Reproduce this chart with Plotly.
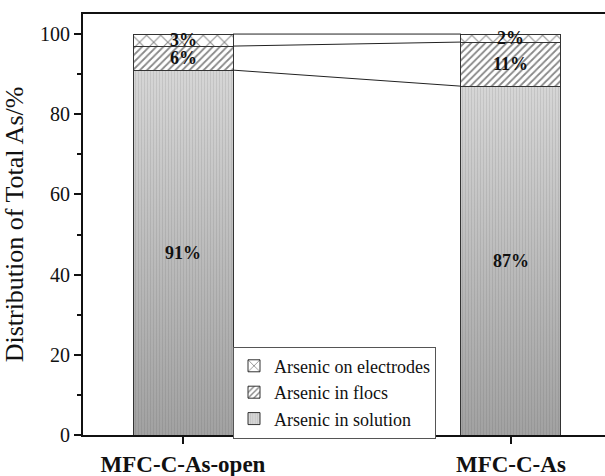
import plotly.graph_objects as go

# Arsenic distribution (%) for each reactor configuration
categories = ["MFC-C-As-open", "MFC-C-As"]
solution = [91, 87]
flocs = [6, 11]
electrodes = [3, 2]

series_names = ["Arsenic in solution", "Arsenic in flocs", "Arsenic on electrodes"]

BAR_W = 0.305
SERIF = "Liberation Serif"

xpos = list(range(len(categories)))

fig = go.Figure()

fig.add_trace(go.Bar(
    x=xpos, y=solution, width=BAR_W, name=series_names[0],
    marker=dict(color="#d4d4d4", line=dict(color="#333333", width=1),
                pattern=dict(shape="|", fgcolor="#b4b4b4", bgcolor="#d6d6d6",
                             size=3, solidity=0.35)),
))
fig.add_trace(go.Bar(
    x=xpos, y=flocs, width=BAR_W, name=series_names[1],
    marker=dict(color="white", line=dict(color="#333333", width=1),
                pattern=dict(shape="/", fgcolor="#111111", bgcolor="white",
                             size=5, solidity=0.35)),
))
fig.add_trace(go.Bar(
    x=xpos, y=electrodes, width=BAR_W, name=series_names[2],
    marker=dict(color="white", line=dict(color="#333333", width=1),
                pattern=dict(shape="x", fgcolor="#111111", bgcolor="white",
                             size=10, solidity=0.2)),
))

# Shading over the solution segments: darker toward the base
for i in xpos:
    x0, x1 = i - BAR_W / 2, i + BAR_W / 2
    fig.add_trace(go.Scatter(
        x=[x0, x1, x1, x0, x0], y=[0, 0, solution[i], solution[i], 0],
        mode="lines", line=dict(width=0), fill="toself",
        fillgradient=dict(type="vertical", start=0, stop=solution[i],
                          colorscale=[[0, "rgba(50,50,50,0.32)"],
                                      [1, "rgba(50,50,50,0.0)"]]),
        showlegend=False, hoverinfo="skip",
    ))

# Connecting lines between the stacked segment boundaries
levels = [
    [s for s in solution],
    [s + f for s, f in zip(solution, flocs)],
    [s + f + e for s, f, e in zip(solution, flocs, electrodes)],
]
for lv in levels:
    fig.add_trace(go.Scatter(
        x=[xpos[0] + BAR_W / 2, xpos[1] - BAR_W / 2], y=[lv[0], lv[1]],
        mode="lines", line=dict(color="#222222", width=1), showlegend=False,
        hoverinfo="skip",
    ))

# Percentage labels centred in each segment
for i in xpos:
    centers = [
        (solution[i] / 2, solution[i]),
        (solution[i] + flocs[i] / 2, flocs[i]),
        (solution[i] + flocs[i] + electrodes[i] / 2, electrodes[i]),
    ]
    for yc, val in centers:
        fig.add_annotation(
            x=i, y=yc, text=f"{val}%", showarrow=False,
            font=dict(family=SERIF, size=18, color="#111111", weight="bold"),
        )

fig.update_layout(
    width=605, height=476,
    margin=dict(l=83, r=0, t=14, b=41),
    barmode="stack",
    plot_bgcolor="white", paper_bgcolor="white",
    font=dict(family=SERIF, color="#111111"),
    showlegend=True,
    legend=dict(
        traceorder="reversed",
        x=(0 + BAR_W / 2 + 0.305) / (1.287 + 0.305), xanchor="left",
        y=0.21, yanchor="top",
        bgcolor="white", bordercolor="#555555", borderwidth=1,
        font=dict(family=SERIF, size=18, color="#111111"),
        itemwidth=30, tracegroupgap=0,
    ),
    xaxis=dict(
        range=[-0.305, 1.287],
        tickmode="array", tickvals=xpos, ticktext=categories,
        tickfont=dict(family=SERIF, size=23, color="#111111", weight="bold"),
        showline=True, linecolor="#111111", linewidth=2, mirror=True,
        ticks="outside", ticklen=7, tickwidth=2, tickcolor="#111111",
        showgrid=False, zeroline=False,
    ),
    yaxis=dict(
        range=[0, 105],
        tickvals=[0, 20, 40, 60, 80, 100],
        tickfont=dict(family=SERIF, size=20, color="#111111"),
        showline=True, linecolor="#111111", linewidth=2,
        ticks="outside", ticklen=7, tickwidth=2, tickcolor="#111111",
        minor=dict(tickvals=[10, 30, 50, 70, 90], ticks="outside", ticklen=4,
                   tickwidth=2, tickcolor="#111111"),
        showgrid=False, zeroline=False,
        title=dict(text="Distribution of Total As/%",
                   font=dict(family=SERIF, size=26, color="#111111"), standoff=10),
    ),
)

fig.write_html("out.html")
